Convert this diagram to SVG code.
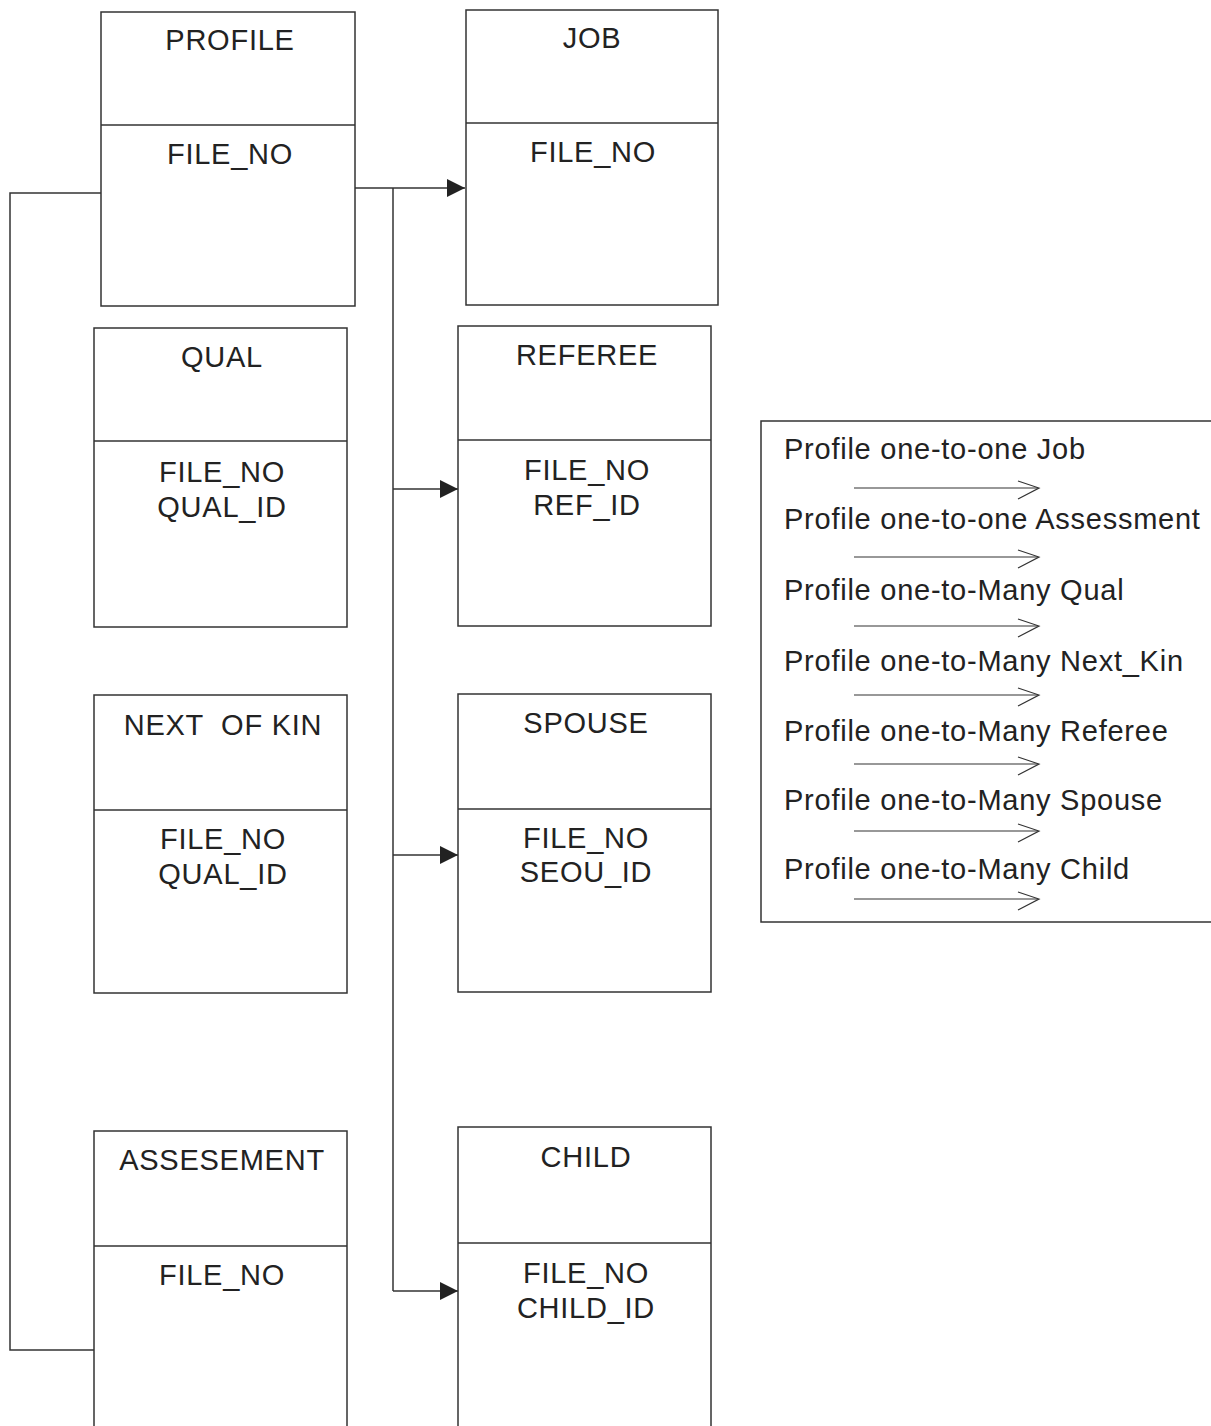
<svg xmlns="http://www.w3.org/2000/svg" width="1211" height="1426" viewBox="0 0 1211 1426">
<style>
.box{fill:#fff;stroke:#333;stroke-width:1.5}
.div{stroke:#333;stroke-width:1.5}
.t{font-family:"Liberation Sans",Arial,sans-serif;font-size:29px;fill:#222;letter-spacing:0.75px;text-anchor:middle;white-space:pre}
.lg{font-family:"Liberation Sans",Arial,sans-serif;font-size:29px;fill:#222;letter-spacing:0.75px}
.c{fill:none;stroke:#333;stroke-width:1.5}
.la{fill:none;stroke:#333;stroke-width:1.2}
</style>
<defs>
<marker id="ah" markerWidth="18" markerHeight="18" refX="18" refY="9" orient="auto" markerUnits="userSpaceOnUse">
<path d="M0,0 L18,9 L0,18 Z" fill="#222"/>
</marker>
</defs>
<rect width="1211" height="1426" fill="#fff"/>
<g id="connectors">
<polyline class="c" points="101,193 10,193 10,1350 95,1350"/>
<line class="c" x1="355" y1="188" x2="465" y2="188" marker-end="url(#ah)"/>
<line class="c" x1="393" y1="188" x2="393" y2="1291"/>
<line class="c" x1="393" y1="489" x2="458" y2="489" marker-end="url(#ah)"/>
<line class="c" x1="393" y1="855" x2="458" y2="855" marker-end="url(#ah)"/>
<line class="c" x1="393" y1="1291" x2="458" y2="1291" marker-end="url(#ah)"/>
</g>
<g id="profile">
<rect class="box" x="101" y="12" width="254" height="294"/>
<line class="div" x1="101" y1="125" x2="355" y2="125"/>
<text class="t" x="230" y="50">PROFILE</text>
<text class="t" x="230" y="164">FILE_NO</text>
</g>
<g id="job">
<rect class="box" x="466" y="10" width="252" height="295"/>
<line class="div" x1="466" y1="123" x2="718" y2="123"/>
<text class="t" x="592" y="48">JOB</text>
<text class="t" x="593" y="162">FILE_NO</text>
</g>
<g id="qual">
<rect class="box" x="94" y="328" width="253" height="299"/>
<line class="div" x1="94" y1="441" x2="347" y2="441"/>
<text class="t" x="222" y="367">QUAL</text>
<text class="t" x="222" y="482">FILE_NO</text>
<text class="t" x="222" y="517">QUAL_ID</text>
</g>
<g id="referee">
<rect class="box" x="458" y="326" width="253" height="300"/>
<line class="div" x1="458" y1="440" x2="711" y2="440"/>
<text class="t" x="587" y="365">REFEREE</text>
<text class="t" x="587" y="480">FILE_NO</text>
<text class="t" x="587" y="515">REF_ID</text>
</g>
<g id="nextofkin">
<rect class="box" x="94" y="695" width="253" height="298"/>
<line class="div" x1="94" y1="810" x2="347" y2="810"/>
<text class="t" x="223" y="735">NEXT  OF KIN</text>
<text class="t" x="223" y="849">FILE_NO</text>
<text class="t" x="223" y="884">QUAL_ID</text>
</g>
<g id="spouse">
<rect class="box" x="458" y="694" width="253" height="298"/>
<line class="div" x1="458" y1="809" x2="711" y2="809"/>
<text class="t" x="586" y="733">SPOUSE</text>
<text class="t" x="586" y="848">FILE_NO</text>
<text class="t" x="586" y="882">SEOU_ID</text>
</g>
<g id="assesement">
<rect class="box" x="94" y="1131" width="253" height="300"/>
<line class="div" x1="94" y1="1246" x2="347" y2="1246"/>
<text class="t" x="222" y="1170">ASSESEMENT</text>
<text class="t" x="222" y="1285">FILE_NO</text>
</g>
<g id="child">
<rect class="box" x="458" y="1127" width="253" height="304"/>
<line class="div" x1="458" y1="1243" x2="711" y2="1243"/>
<text class="t" x="586" y="1167">CHILD</text>
<text class="t" x="586" y="1283">FILE_NO</text>
<text class="t" x="586" y="1318">CHILD_ID</text>
</g>
<g id="legend">
<rect class="box" x="761" y="421" width="460" height="501"/>
<text class="lg" x="784" y="459">Profile one-to-one Job</text>
<text class="lg" x="784" y="529">Profile one-to-one Assessment</text>
<text class="lg" x="784" y="600">Profile one-to-Many Qual</text>
<text class="lg" x="784" y="671">Profile one-to-Many Next_Kin</text>
<text class="lg" x="784" y="741">Profile one-to-Many Referee</text>
<text class="lg" x="784" y="810">Profile one-to-Many Spouse</text>
<text class="lg" x="784" y="879">Profile one-to-Many Child</text>
<g class="la">
<line x1="854" y1="488" x2="1038" y2="488"/><polyline points="1018,481 1039,488 1018,499"/>
<line x1="854" y1="557" x2="1038" y2="557"/><polyline points="1018,550 1039,557 1018,568"/>
<line x1="854" y1="626" x2="1038" y2="626"/><polyline points="1018,619 1039,626 1018,637"/>
<line x1="854" y1="695" x2="1038" y2="695"/><polyline points="1018,688 1039,695 1018,706"/>
<line x1="854" y1="764" x2="1038" y2="764"/><polyline points="1018,757 1039,764 1018,775"/>
<line x1="854" y1="831" x2="1038" y2="831"/><polyline points="1018,824 1039,831 1018,842"/>
<line x1="854" y1="899" x2="1038" y2="899"/><polyline points="1018,892 1039,899 1018,910"/>
</g>
</g>
</svg>
